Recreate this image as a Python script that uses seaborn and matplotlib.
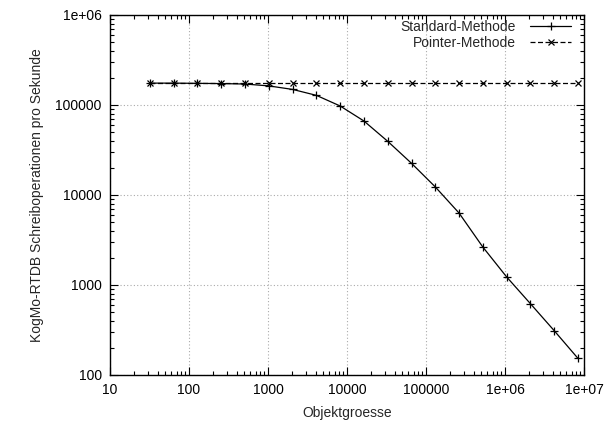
import numpy as np
import pandas as pd
import matplotlib
matplotlib.use("Agg")
import matplotlib.pyplot as plt
import seaborn as sns
from matplotlib.ticker import FixedLocator, LogLocator, NullFormatter
from matplotlib.lines import Line2D

# Data
objektgroesse = [32, 64, 128, 256, 512, 1024, 2048, 4096, 8192, 16384, 32768,
                 65536, 131072, 262144, 524288, 1048576, 2097152, 4194304, 8388608]
standard = [175000, 175000, 174000, 173000, 171000, 163000, 149000, 128000, 97500,
            66400, 39500, 22500, 12300, 6300, 2640, 1230, 620, 311, 153]
pointer = [175000] * len(objektgroesse)
series_names = ["Standard-Methode", "Pointer-Methode"]
x_ticks = [10, 100, 1000, 10000, 100000, 1e6, 1e7]
x_ticklabels = ["10", "100", "1000", "10000", "100000", "1e+06", "1e+07"]
y_ticks = [100, 1000, 10000, 100000, 1e6]
y_ticklabels = ["100", "1000", "10000", "100000", "1e+06"]

sns.set_style("white")
plt.rcParams['font.family'] = ['Liberation Sans', 'DejaVu Sans']
plt.rcParams['font.size'] = 10

df_std = pd.DataFrame({"x": objektgroesse, "y": standard})
df_ptr = pd.DataFrame({"x": objektgroesse, "y": pointer})

fig = plt.figure(figsize=(6.06, 4.21), dpi=100)
ax = fig.add_axes([110/606, 1 - 375/421, (584 - 110)/606, (375 - 15)/421])

styles = [
    dict(color="black", linestyle="-", marker="+", markersize=6, markeredgewidth=0.9,
         markeredgecolor="black", markerfacecolor="black", linewidth=0.9),
    dict(color="black", linestyle=(0, (4, 2)), marker="x", markersize=5, markeredgewidth=0.9,
         markeredgecolor="black", markerfacecolor="black", linewidth=0.9),
]
sns.lineplot(data=df_ptr, x="x", y="y", ax=ax, legend=False, **styles[1])
sns.lineplot(data=df_std, x="x", y="y", ax=ax, legend=False, **styles[0])

ax.set_xscale("log")
ax.set_yscale("log")
ax.set_xlim(10, 1e7)
ax.set_ylim(100, 1e6)

ax.xaxis.set_major_locator(FixedLocator(x_ticks))
ax.set_xticklabels(x_ticklabels)
ax.yaxis.set_major_locator(FixedLocator(y_ticks))
ax.set_yticklabels(y_ticklabels)
ax.xaxis.set_minor_locator(LogLocator(base=10, subs=np.arange(2, 10), numticks=20))
ax.yaxis.set_minor_locator(LogLocator(base=10, subs=np.arange(2, 10), numticks=20))
ax.xaxis.set_minor_formatter(NullFormatter())
ax.yaxis.set_minor_formatter(NullFormatter())

ax.tick_params(which="both", direction="in", top=True, right=True, bottom=True, left=True,
               colors="black", labelsize=10, width=0.8)
ax.tick_params(which="major", length=6, pad=6)
ax.tick_params(which="minor", length=3)

ax.grid(True, which="major", linestyle=(0, (1, 2)), color="#aaaaaa", linewidth=0.8)
for s in ax.spines.values():
    s.set_color("black")
    s.set_linewidth(1.0)

ax.set_xlabel("Objektgroesse", fontsize=10, labelpad=6)
ax.set_ylabel("KogMo-RTDB Schreiboperationen pro Sekunde", fontsize=10, labelpad=8)

handles = [Line2D([], [], **styles[0]), Line2D([], [], **styles[1])]
ax.legend(handles, series_names, loc="upper right", frameon=False, markerfirst=False,
          handlelength=3.0, handletextpad=1.0, labelspacing=0.15, fontsize=10,
          borderaxespad=0, numpoints=1,
          bbox_to_anchor=(577/606, (421 - 14)/421), bbox_transform=fig.transFigure)

fig.savefig("out.png", dpi=100)
